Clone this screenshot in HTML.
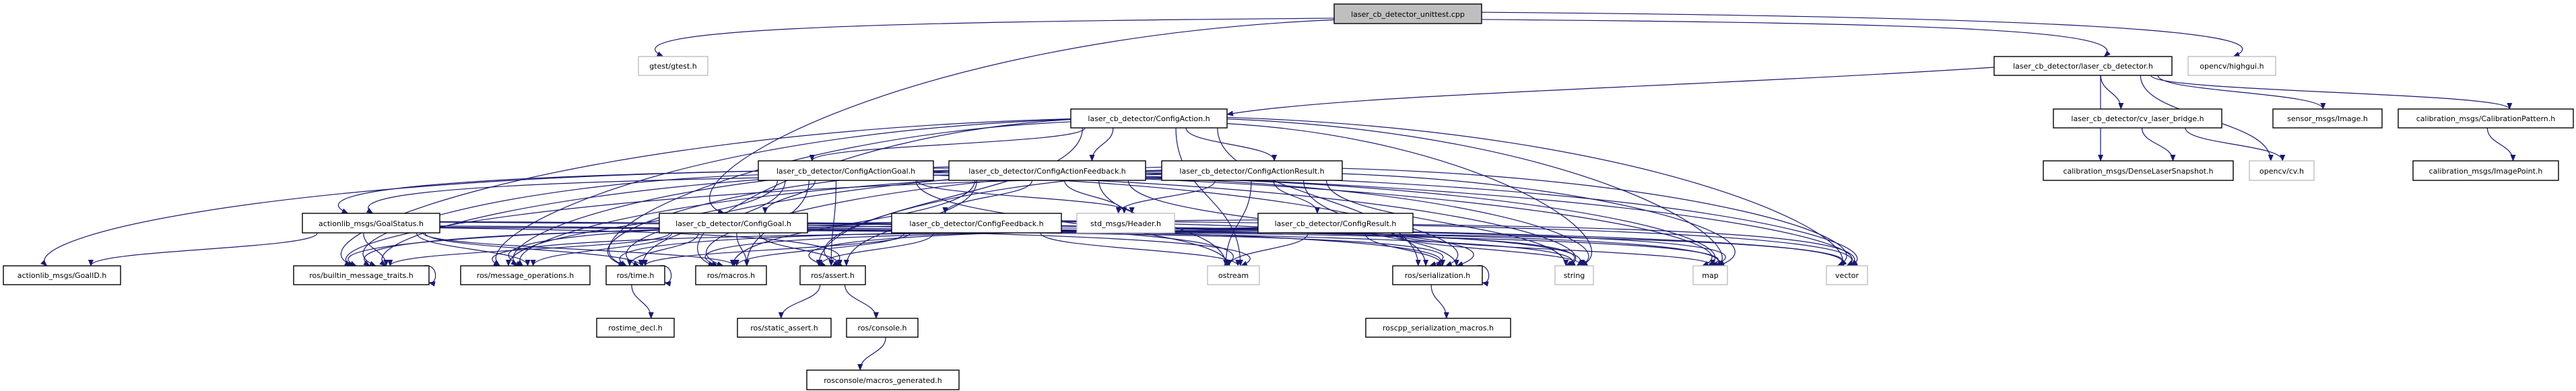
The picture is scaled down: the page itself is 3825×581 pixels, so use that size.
<!DOCTYPE html>
<html><head><meta charset="utf-8">
<style>
html,body{margin:0;padding:0;background:#fff;}
svg{display:block;}
text{font-family:"DejaVu Sans","Liberation Sans",sans-serif;font-size:11px;fill:#000;}
</style></head>
<body>
<svg id="g" width="3825" height="581" viewBox="0 0 3825 581" xmlns="http://www.w3.org/2000/svg">
<defs><marker id="ah" markerWidth="10" markerHeight="8" refX="9" refY="4" orient="auto" markerUnits="userSpaceOnUse"><path d="M0,0 L10,4 L0,8 z" fill="#191970"/></marker></defs>
<g id="edges" fill="none" stroke="#191970" stroke-width="1.2"></g>
<g id="nodes" stroke-width="1.4">
<rect x="1981" y="6" width="219" height="29" fill="#bfbfbf" stroke="#000"/><text x="2090.5" y="25" text-anchor="middle">laser_cb_detector_unittest.cpp</text>
<rect x="948" y="84" width="103" height="28" fill="#fff" stroke="#bfbfbf"/><text x="999.5" y="102" text-anchor="middle">gtest/gtest.h</text>
<rect x="2961" y="84" width="264" height="28" fill="#fff" stroke="#000"/><text x="3093" y="102" text-anchor="middle">laser_cb_detector/laser_cb_detector.h</text>
<rect x="3249" y="84" width="130" height="28" fill="#fff" stroke="#bfbfbf"/><text x="3314" y="102" text-anchor="middle">opencv/highgui.h</text>
<rect x="1590" y="162" width="232" height="28" fill="#fff" stroke="#000"/><text x="1706" y="180" text-anchor="middle">laser_cb_detector/ConfigAction.h</text>
<rect x="3049" y="162" width="250" height="28" fill="#fff" stroke="#000"/><text x="3174" y="180" text-anchor="middle">laser_cb_detector/cv_laser_bridge.h</text>
<rect x="3375" y="162" width="162" height="28" fill="#fff" stroke="#000"/><text x="3456" y="180" text-anchor="middle">sensor_msgs/Image.h</text>
<rect x="3561" y="162" width="260" height="28" fill="#fff" stroke="#000"/><text x="3691" y="180" text-anchor="middle">calibration_msgs/CalibrationPattern.h</text>
<rect x="1126" y="239" width="260" height="29" fill="#fff" stroke="#000"/><text x="1256" y="258" text-anchor="middle">laser_cb_detector/ConfigActionGoal.h</text>
<rect x="1409" y="239" width="292" height="29" fill="#fff" stroke="#000"/><text x="1555" y="258" text-anchor="middle">laser_cb_detector/ConfigActionFeedback.h</text>
<rect x="1725" y="239" width="268" height="29" fill="#fff" stroke="#000"/><text x="1859" y="258" text-anchor="middle">laser_cb_detector/ConfigActionResult.h</text>
<rect x="3034" y="239" width="282" height="29" fill="#fff" stroke="#000"/><text x="3175" y="258" text-anchor="middle">calibration_msgs/DenseLaserSnapshot.h</text>
<rect x="3340" y="239" width="96" height="29" fill="#fff" stroke="#bfbfbf"/><text x="3388" y="258" text-anchor="middle">opencv/cv.h</text>
<rect x="3583" y="239" width="216" height="29" fill="#fff" stroke="#000"/><text x="3691" y="258" text-anchor="middle">calibration_msgs/ImagePoint.h</text>
<rect x="449" y="317" width="204" height="29" fill="#fff" stroke="#000"/><text x="551" y="336" text-anchor="middle">actionlib_msgs/GoalStatus.h</text>
<rect x="979" y="317" width="220" height="29" fill="#fff" stroke="#000"/><text x="1089" y="336" text-anchor="middle">laser_cb_detector/ConfigGoal.h</text>
<rect x="1324" y="317" width="252" height="29" fill="#fff" stroke="#000"/><text x="1450" y="336" text-anchor="middle">laser_cb_detector/ConfigFeedback.h</text>
<rect x="1599" y="317" width="145" height="29" fill="#fff" stroke="#bfbfbf"/><text x="1671.5" y="336" text-anchor="middle">std_msgs/Header.h</text>
<rect x="1868" y="317" width="230" height="29" fill="#fff" stroke="#000"/><text x="1983" y="336" text-anchor="middle">laser_cb_detector/ConfigResult.h</text>
<rect x="5" y="395" width="174" height="28" fill="#fff" stroke="#000"/><text x="92" y="413" text-anchor="middle">actionlib_msgs/GoalID.h</text>
<rect x="436" y="395" width="201" height="28" fill="#fff" stroke="#000"/><text x="536.5" y="413" text-anchor="middle">ros/builtin_message_traits.h</text>
<rect x="684" y="395" width="192" height="28" fill="#fff" stroke="#000"/><text x="780" y="413" text-anchor="middle">ros/message_operations.h</text>
<rect x="900" y="395" width="87" height="28" fill="#fff" stroke="#000"/><text x="943.5" y="413" text-anchor="middle">ros/time.h</text>
<rect x="1033" y="395" width="105" height="28" fill="#fff" stroke="#000"/><text x="1085.5" y="413" text-anchor="middle">ros/macros.h</text>
<rect x="1188" y="395" width="97" height="28" fill="#fff" stroke="#000"/><text x="1236.5" y="413" text-anchor="middle">ros/assert.h</text>
<rect x="1793" y="395" width="77" height="28" fill="#fff" stroke="#bfbfbf"/><text x="1831.5" y="413" text-anchor="middle">ostream</text>
<rect x="2068" y="395" width="133" height="28" fill="#fff" stroke="#000"/><text x="2134.5" y="413" text-anchor="middle">ros/serialization.h</text>
<rect x="2309" y="395" width="57" height="28" fill="#fff" stroke="#bfbfbf"/><text x="2337.5" y="413" text-anchor="middle">string</text>
<rect x="2514" y="395" width="51" height="28" fill="#fff" stroke="#bfbfbf"/><text x="2539.5" y="413" text-anchor="middle">map</text>
<rect x="2712" y="395" width="61" height="28" fill="#fff" stroke="#bfbfbf"/><text x="2742.5" y="413" text-anchor="middle">vector</text>
<rect x="886" y="473" width="115" height="28" fill="#fff" stroke="#000"/><text x="943.5" y="491" text-anchor="middle">rostime_decl.h</text>
<rect x="1095" y="473" width="139" height="28" fill="#fff" stroke="#000"/><text x="1164.5" y="491" text-anchor="middle">ros/static_assert.h</text>
<rect x="1257" y="473" width="106" height="28" fill="#fff" stroke="#000"/><text x="1310" y="491" text-anchor="middle">ros/console.h</text>
<rect x="2028" y="473" width="215" height="28" fill="#fff" stroke="#000"/><text x="2135.5" y="491" text-anchor="middle">roscpp_serialization_macros.h</text>
<rect x="1198" y="550" width="226" height="29" fill="#fff" stroke="#000"/><text x="1311" y="569" text-anchor="middle">rosconsole/macros_generated.h</text>
</g>
</svg>
<script>
var N={
root:[1981,6,219,29],gtest:[948,84,103,28],lcd:[2961,84,264,28],hg:[3249,84,130,28],
ca:[1590,162,232,28],cvb:[3049,162,250,28],img:[3375,162,162,28],cp:[3561,162,260,28],
cag:[1126,239,260,29],caf:[1409,239,292,29],car:[1725,239,268,29],dls:[3034,239,282,29],cv:[3340,239,96,29],ip:[3583,239,216,29],
gs:[449,317,204,29],cg:[979,317,220,29],cf:[1324,317,252,29],hdr:[1599,317,145,29],cr:[1868,317,230,29],
gid:[5,395,174,28],bmt:[436,395,201,28],mo:[684,395,192,28],tm:[900,395,87,28],mac:[1033,395,105,28],as:[1188,395,97,28],
os:[1793,395,77,28],ser:[2068,395,133,28],str:[2309,395,57,28],map:[2514,395,51,28],vec:[2712,395,61,28],
rd:[886,473,115,28],sa:[1095,473,139,28],con:[1257,473,106,28],rsm:[2028,473,215,28],mg:[1198,550,226,29]};
var common=['str','vec','map','os','ser','bmt','mo','tm','mac','as'];
var E=[['root','gtest'],['root','lcd'],['root','cg'],['root','hg'],
['lcd','ca'],['lcd','cvb'],['lcd','dls'],['lcd','cv'],['lcd','img'],['lcd','cp'],
['cvb','dls'],['cvb','cv'],['cp','ip'],
['ca','cag'],['ca','caf'],['ca','car'],
['cag','gid'],['cag','cg'],['cag','hdr'],['caf','gs'],['caf','cf'],['caf','hdr'],['car','gs'],['car','cr'],['car','hdr'],
['gs','gid'],['tm','rd'],['as','sa'],['as','con'],['con','mg'],['ser','rsm']];
['ca','cag','caf','car','cg','cf','cr','gs'].forEach(function(s){common.forEach(function(t){E.push([s,t]);});});
var g=document.getElementById('edges'),ns='http://www.w3.org/2000/svg',h=0;
function rnd(){h=(h*9301+49297)%233280;return h/233280;}
E.forEach(function(e){
 var s=N[e[0]],t=N[e[1]];
 var scx=s[0]+s[2]/2,sb=s[1]+s[3],tcx=t[0]+t[2]/2,tt=t[1];
 var d,dx=tcx-scx,span=Math.abs(dx);
 var tx=tcx+(rnd()-0.5)*t[2]*0.5;
 if(e[0]=='lcd'&&e[1]=='ca'){
   d='M2961,100 C2500,130 2000,140 1822,170';
 } else if(t[1]<=s[1]+s[3]&&t[1]>=s[1]){
   var sxm=dx>0?s[0]+s[2]:s[0],tx2=dx>0?t[0]:t[0]+t[2];
   d='M'+sxm+','+(s[1]+14)+' C'+(sxm+dx/3)+','+(s[1]+14)+' '+(tx2-dx/3)+','+(t[1]+14)+' '+tx2+','+(t[1]+14);
 } else if(span>600){
   var sx=dx<0?s[0]:s[0]+s[2],sy=s[1]+s[3]*(0.3+rnd()*0.6);
   var cx=tx+(dx<0?-80:80)*(0.5+rnd());
   d='M'+sx+','+sy+' C'+(tx+dx*-0.25)+','+(sy+(tt-sy)*0.1)+' '+cx+','+(tt-40)+' '+tx+','+tt;
 } else {
   var sx=scx+dx/Math.max(span,1)*Math.min(span*0.3,s[2]*0.4)+(rnd()-0.5)*20;
   var my=(sb+tt)/2;
   d='M'+sx+','+sb+' C'+sx+','+my+' '+tx+','+my+' '+tx+','+tt;
 }
 var p=document.createElementNS(ns,'path');p.setAttribute('d',d);p.setAttribute('marker-end','url(#ah)');g.appendChild(p);
});
[['bmt'],['tm'],['ser']].forEach(function(k){var t=N[k[0]],x=t[0]+t[2],y=t[1];
 var p=document.createElementNS(ns,'path');p.setAttribute('d','M'+(x-8)+','+y+' C'+(x+14)+','+(y-4)+' '+(x+14)+','+(y+t[3])+' '+x+','+(y+t[3]-3));p.setAttribute('marker-end','url(#ah)');g.appendChild(p);});
</script>
</body></html>
